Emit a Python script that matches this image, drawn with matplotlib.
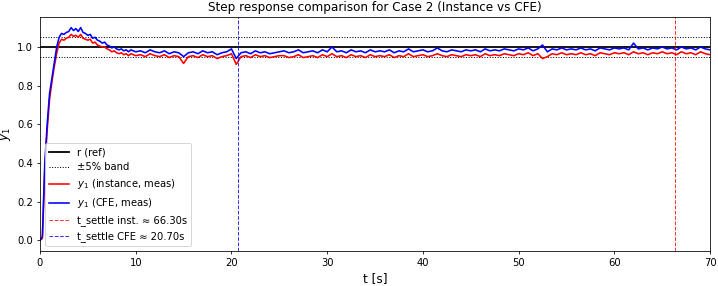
import numpy as np
import matplotlib
matplotlib.use("Agg")
import matplotlib.pyplot as plt

# time grid: 0.25 s up to 10 s, then 0.5 s up to 70 s
t_rise = [0.0, 0.25, 0.5, 0.75, 1.0, 1.25, 1.5, 1.75, 2.0, 2.25, 2.5, 2.75, 3.0, 3.25,
          3.5, 3.75, 4.0, 4.25, 4.5, 4.75, 5.0, 5.25, 5.5, 5.75, 6.0, 6.25, 6.5, 6.75,
          7.0, 7.25, 7.5, 7.75, 8.0, 8.25, 8.5, 8.75, 9.0, 9.25, 9.5, 9.75, 10.0]
t_tail = list(np.arange(10.5, 70.01, 0.5))
t = np.array(t_rise + t_tail)

y_cfe = [0.0, 0.02, 0.40, 0.60, 0.76, 0.84, 0.92, 1.0, 1.05, 1.07, 1.065, 1.075, 1.08, 1.10,
         1.085, 1.095, 1.08, 1.10, 1.075, 1.07, 1.06, 1.065, 1.045, 1.05, 1.035, 1.03, 1.02, 1.025,
         1.01, 1.005, 0.995, 1.0, 0.99, 0.985, 0.99, 0.98, 0.985, 0.975, 0.985, 0.98, 0.975,
         0.98, 0.97, 0.985, 0.975, 0.97, 0.98, 0.965, 0.975, 0.97, 0.95,
         0.97, 0.975, 0.965, 0.98, 0.97, 0.975, 0.96, 0.97, 0.975, 0.99,
         0.94, 0.97, 0.975, 0.965, 0.98, 0.97, 0.975, 0.965, 0.97, 0.975,
         0.98, 0.97, 0.975, 0.985, 0.97, 0.975, 0.98, 0.97, 0.985, 0.975,
         1.0, 0.975, 0.98, 0.97, 0.985, 0.975, 0.98, 0.97, 0.985, 0.975,
         0.98, 0.975, 0.985, 0.97, 0.98, 0.975, 0.99, 0.975, 0.98, 0.985,
         0.975, 0.98, 0.995, 0.98, 0.975, 0.985, 0.98, 0.975, 0.985, 0.98,
         0.985, 0.975, 0.99, 0.98, 0.985, 0.98, 0.99, 0.985, 0.98, 0.99,
         0.985, 0.995, 0.98, 0.99, 1.01, 0.975, 0.99, 0.985, 0.995, 0.985,
         0.99, 0.985, 0.995, 0.985, 0.99, 0.98, 0.995, 0.99, 0.985, 0.995,
         0.99, 0.995, 0.985, 1.02, 0.99, 0.995, 0.985, 0.995, 0.99, 1.0,
         0.99, 0.995, 0.985, 1.0, 0.99, 0.995, 0.985, 1.0, 0.99, 0.985]

y_inst = [0.0, 0.01, 0.36, 0.57, 0.73, 0.82, 0.90, 0.97, 1.02, 1.04, 1.035, 1.045, 1.05, 1.065,
          1.055, 1.06, 1.05, 1.065, 1.045, 1.04, 1.035, 1.04, 1.02, 1.025, 1.01, 1.005, 1.0, 1.0,
          0.99, 0.985, 0.975, 0.98, 0.97, 0.965, 0.97, 0.96, 0.965, 0.955, 0.965, 0.96, 0.955,
          0.96, 0.95, 0.965, 0.955, 0.95, 0.96, 0.945, 0.955, 0.95, 0.915,
          0.95, 0.955, 0.945, 0.96, 0.95, 0.955, 0.94, 0.95, 0.955, 0.965,
          0.91, 0.95, 0.955, 0.945, 0.96, 0.95, 0.955, 0.945, 0.95, 0.955,
          0.955, 0.945, 0.95, 0.96, 0.945, 0.95, 0.955, 0.945, 0.96, 0.95,
          0.965, 0.95, 0.955, 0.945, 0.96, 0.95, 0.955, 0.945, 0.96, 0.95,
          0.955, 0.95, 0.96, 0.945, 0.955, 0.95, 0.965, 0.95, 0.955, 0.96,
          0.95, 0.955, 0.965, 0.955, 0.95, 0.96, 0.955, 0.95, 0.96, 0.955,
          0.96, 0.95, 0.965, 0.955, 0.96, 0.955, 0.965, 0.96, 0.955, 0.965,
          0.96, 0.97, 0.955, 0.965, 0.94, 0.95, 0.965, 0.96, 0.97, 0.96,
          0.965, 0.96, 0.97, 0.96, 0.965, 0.955, 0.97, 0.965, 0.96, 0.97,
          0.965, 0.97, 0.96, 0.975, 0.965, 0.97, 0.96, 0.97, 0.965, 0.975,
          0.965, 0.97, 0.96, 0.975, 0.965, 0.97, 0.96, 0.975, 0.965, 0.96]

ref_t = [0.0, 70.0]
ref_y = [1.0, 1.0]
band = [0.95, 1.05]
t_settle_inst = 66.30
t_settle_cfe = 20.70

fig = plt.figure(figsize=(10, 286 / 71.8), dpi=71.8)
ax = fig.add_axes([0.0557, 0.1224, 0.989 - 0.0557, 0.9406 - 0.1224])

ax.plot(ref_t, ref_y, color="black", lw=1.8, label="r (ref)")
ax.axhline(band[0], color="black", ls=":", lw=1, label="±5% band")
ax.axhline(band[1], color="black", ls=":", lw=1)
ax.plot(t, y_inst, color="red", lw=1.6, label=r"$y_1$ (instance, meas)")
ax.plot(t, y_cfe, color="blue", lw=1.6, label=r"$y_1$ (CFE, meas)")
ax.axvline(t_settle_inst, color="red", ls="--", lw=1, alpha=0.8,
           label=f"t_settle inst. ≈ {t_settle_inst:.2f}s")
ax.axvline(t_settle_cfe, color="blue", ls="--", lw=1, alpha=0.8,
           label=f"t_settle CFE ≈ {t_settle_cfe:.2f}s")

ax.set_xlim(0, 70)
ax.set_xlabel("t [s]", fontsize=12)
ax.set_ylabel(r"$y_1$", fontsize=12)
ax.set_title("Step response comparison for Case 2 (Instance vs CFE)", fontsize=12)
ax.legend(loc="lower left", fontsize=10)

fig.savefig("out.png", dpi=71.8)
